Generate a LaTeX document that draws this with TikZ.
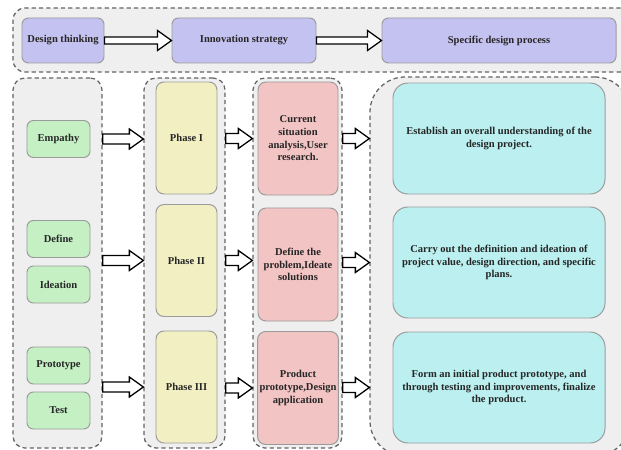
\documentclass[tikz,border=0pt]{standalone}
\usepackage{fontspec}
\setmainfont{Liberation Serif}
\usetikzlibrary{calc}
\definecolor{grpfill}{RGB}{239,239,239}
\definecolor{grpline}{RGB}{100,100,100}
\definecolor{boxline}{RGB}{155,155,155}
\definecolor{lavender}{RGB}{196,194,240}
\definecolor{mint}{RGB}{196,240,196}
\definecolor{cream}{RGB}{242,240,194}
\definecolor{rose}{RGB}{242,196,196}
\definecolor{aqua}{RGB}{188,240,240}
\tikzset{
  group/.style={draw=grpline,fill=grpfill,line width=0.9pt,dash pattern=on 3pt off 2.2pt,rounded corners=3mm},
  box/.style={draw=boxline,line width=0.7pt,rounded corners=1.6mm,align=center,inner sep=0.5mm,
    font=\fontsize{7.5}{9}\selectfont\bfseries,text=black!85},
  headbox/.style={box,fill=lavender,minimum height=11.25mm},
  stagebox/.style={box,fill=mint,minimum width=15.75mm,minimum height=9.25mm},
  phasebox/.style={box,fill=cream,rounded corners=2mm,minimum width=15.25mm,minimum height=28mm},
  taskbox/.style={box,fill=rose,rounded corners=2mm,minimum width=20mm,minimum height=28.25mm},
  goalbox/.style={box,fill=aqua,rounded corners=3.75mm,minimum width=53mm,minimum height=27.75mm},
  hollow/.style={draw=black,fill=white,line width=0.9pt,line join=miter}
}
% hollow block arrow: [half shaft]{from}{to}
\newcommand{\flowarrow}[3][1.25mm]{%
  \draw[hollow] let \p1=#2, \p2=#3 in
    (\x1,\y1+#1) -- (\x2-3.5mm,\y1+#1) -- (\x2-3.5mm,\y1+2.5mm) -- (\x2,\y1)
    -- (\x2-3.5mm,\y1-2.5mm) -- (\x2-3.5mm,\y1-#1) -- (\x1,\y1-#1) -- cycle;}

\begin{document}
\begin{tikzpicture}[x=0.25mm,y=-0.25mm]
  \useasboundingbox (0,0) rectangle (621,450);
  \clip (0,0) rectangle (621,450);
  % containers
  \node[group,minimum width=156.75mm,minimum height=16mm] (topgrp) at (326.5,40) {};
  \node[group,minimum width=22.25mm,minimum height=92.5mm] (stagegrp) at (57.5,263) {};
  \node[group,minimum width=20.25mm,minimum height=92.5mm] (phasegrp) at (184.5,263) {};
  \node[group,minimum width=22.25mm,minimum height=92.5mm] (taskgrp) at (297.5,263) {};
  \node[group,rounded corners=8.75mm,minimum width=65mm,minimum height=94.75mm] (goalgrp) at (500,266.5) {};
  % top row
  \node[headbox,minimum width=20.5mm] (dthink) at (63,40.5) {Design thinking};
  \node[headbox,minimum width=36mm] (istrat) at (244,40.5) {Innovation strategy};
  \node[headbox,minimum width=58.5mm] (sproc) at (499,40.5) {Specific design process};
  % stages
  \node[stagebox] (emp) at (58.5,139) {Empathy};
  \node[stagebox] (dfn) at (58.5,239) {Define};
  \node[stagebox] (idea) at (58.5,284.5) {Ideation};
  \node[stagebox] (proto) at (58.5,365.5) {Prototype};
  \node[stagebox] (test) at (58.5,410.5) {Test};
  % phases
  \node[phasebox] (ph1) at (186.5,138) {Phase I};
  \node[phasebox] (ph2) at (186.5,260.5) {Phase II};
  \node[phasebox] (ph3) at (186.5,387) {Phase III};
  % tasks
  \node[taskbox] (tk1) at (298,138.5) {Current\\situation\\analysis,User\\research.};
  \node[taskbox] (tk2) at (298,264.5) {Define the\\problem,Ideate\\solutions};
  \node[taskbox] (tk3) at (298,388) {Product\\prototype,Design\\application};
  % goals
  \node[goalbox] (gl1) at (499,138.5) {Establish an overall understanding of the\\design project.};
  \node[goalbox] (gl2) at (499,262.5) {Carry out the definition and ideation of\\project value, design direction, and specific\\plans.};
  \node[goalbox] (gl3) at (499,387.5) {Form an initial product prototype, and\\through testing and improvements, finalize\\the product.};
  % arrows
  \flowarrow[0.9mm]{(dthink.east)}{(istrat.west)}
  \flowarrow[0.9mm]{(istrat.east)}{(sproc.west)}
  \flowarrow{(stagegrp.east |- emp)}{(phasegrp.west |- emp)}
  \flowarrow{(stagegrp.east |- ph2)}{(phasegrp.west |- ph2)}
  \flowarrow{(stagegrp.east |- ph3)}{(phasegrp.west |- ph3)}
  \flowarrow{(phasegrp.east |- tk1)}{(taskgrp.west |- tk1)}
  \flowarrow{(phasegrp.east |- ph2)}{(taskgrp.west |- ph2)}
  \flowarrow{(phasegrp.east |- tk3)}{(taskgrp.west |- tk3)}
  \flowarrow{(taskgrp.east |- gl1)}{(goalgrp.west |- gl1)}
  \flowarrow{(taskgrp.east |- gl2)}{(goalgrp.west |- gl2)}
  \flowarrow{(taskgrp.east |- gl3)}{(goalgrp.west |- gl3)}
\end{tikzpicture}
\end{document}
